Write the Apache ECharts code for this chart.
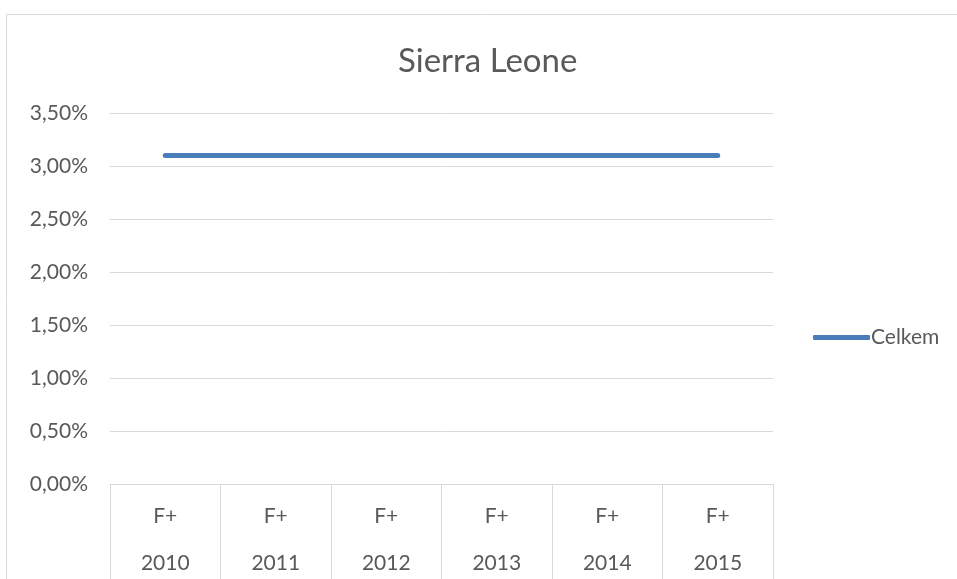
<!DOCTYPE html>
<html>
<head>
<meta charset="utf-8">
<script src="https://cdn.jsdelivr.net/npm/echarts@6/dist/echarts.min.js"></script>
<style>html,body{margin:0;padding:0;background:#fff;}#c{width:957px;height:579px;}</style>
</head>
<body>
<div id="c"></div>
<script>
const years = ['2010', '2011', '2012', '2013', '2014', '2015'];
const subLabels = ['F+', 'F+', 'F+', 'F+', 'F+', 'F+'];
const celkem = [3.10, 3.10, 3.10, 3.10, 3.10, 3.10];
const yTicks = { min: 0, max: 3.5, interval: 0.5 };

const font = 'Lato, "Open Sans", "Liberation Sans", sans-serif';
const chart = echarts.init(document.getElementById('c'));
chart.setOption({
  animation: false,
  backgroundColor: '#fff',
  textStyle: { fontFamily: font },
  title: {
    text: 'Sierra Leone', left: 393, top: 40,
    textStyle: { fontFamily: font, fontSize: 33, fontWeight: 'normal', color: '#595959' }
  },
  graphic: [{
    type: 'rect', shape: { x: 6.5, y: 14.5, width: 1000, height: 1000 },
    style: { fill: 'none', stroke: '#d9d9d9', lineWidth: 1 }, silent: true, z: -1
  }],
  legend: {
    orient: 'vertical', left: 808, top: 322,
    icon: 'roundRect', itemWidth: 57, itemHeight: 5, itemGap: 2,
    textStyle: { fontFamily: font, fontSize: 21, color: '#595959', padding: [0, 0, 0, -4] },
    data: ['Celkem']
  },
  grid: { left: 110, right: 184, top: 113, bottom: 95, containLabel: false },
  xAxis: [{
    type: 'category', data: subLabels, position: 'bottom', boundaryGap: true,
    axisLine: { lineStyle: { color: '#d9d9d9' } },
    axisTick: { show: true, length: 100, interval: 0, lineStyle: { color: '#d9d9d9' } },
    axisLabel: { interval: 0, margin: 22, fontSize: 21, color: '#595959', fontFamily: font }
  }, {
    type: 'category', data: years, position: 'bottom', boundaryGap: true,
    axisLine: { show: false }, axisTick: { show: false },
    axisLabel: { interval: 0, margin: 69, fontSize: 21, color: '#595959', fontFamily: font }
  }],
  yAxis: {
    type: 'value', min: yTicks.min, max: yTicks.max, interval: yTicks.interval,
    axisLine: { show: false }, axisTick: { show: false },
    splitLine: { lineStyle: { color: '#d9d9d9' } },
    axisLabel: {
      margin: 22, fontSize: 21, color: '#595959', fontFamily: font,
      formatter: v => v.toFixed(2).replace('.', ',') + '%'
    }
  },
  series: [{
    name: 'Celkem', type: 'line', data: celkem, xAxisIndex: 0,
    symbol: 'none', lineStyle: { color: '#4A7EBB', width: 5, cap: 'round' },
    itemStyle: { color: '#4A7EBB' }
  }]
});
</script>
</body>
</html>
